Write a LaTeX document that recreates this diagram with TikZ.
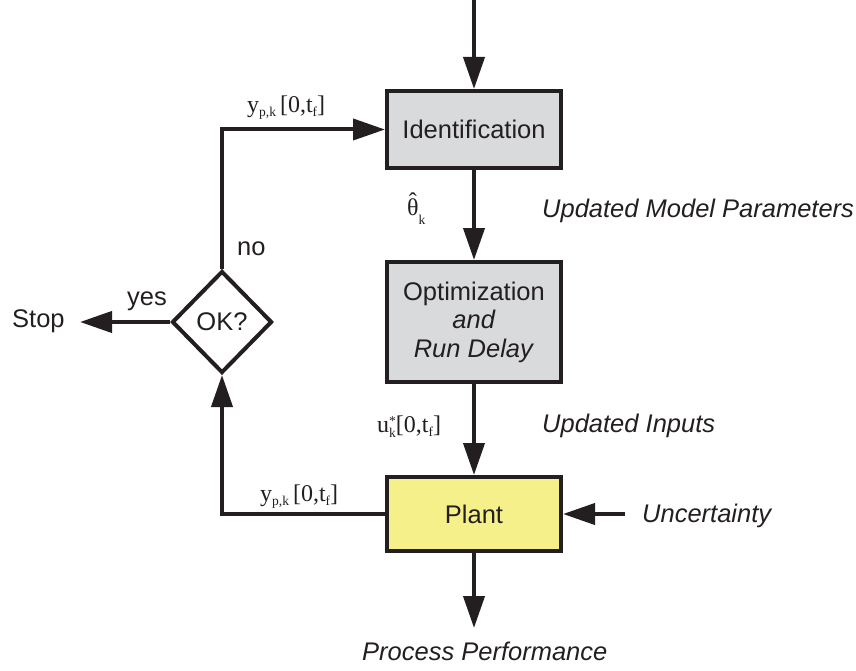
\documentclass[tikz,border=0pt]{standalone}
\usepackage{fontspec}
\setmainfont{Liberation Serif}
\setsansfont{Liberation Sans}
\usetikzlibrary{arrows.meta,shapes.geometric}
\definecolor{ink}{HTML}{231F20}
\definecolor{boxgray}{HTML}{D9DADB}
\definecolor{plantyellow}{HTML}{F5F08A}
% lowered small index for the serif signal labels
\newcommand\lsub[2]{\raisebox{#1}{\fontsize{13.5}{13.5}\selectfont #2}}
\newcommand\sigfont{\fontsize{24}{26}\selectfont}
\newcommand\bigsans{\sffamily\fontsize{25.5}{28.5}\selectfont}
% theta with a hat placed over it
\newcommand\thetahat{\ooalign{θ\cr\hidewidth\raisebox{6pt}{ˆ}\hidewidth\cr}}

\begin{document}
\begin{tikzpicture}[x=1pt,y=-1pt,
  every node/.style={inner sep=0pt, text=ink},
  block/.style={draw=ink, line width=4pt, minimum width=174pt, inner sep=0pt,
    font=\bigsans, align=center},
  decision/.style={diamond, aspect=1, draw=ink, line width=4pt,
    minimum width=100pt, minimum height=102pt, fill=white, inner sep=0pt, font=\bigsans},
  flow/.style={draw=ink, line width=4pt, -{Triangle[length=32pt,width=21pt]}},
  lbl/.style={anchor=base west, font=\bigsans},
  ilbl/.style={anchor=base west, font=\bigsans\itshape},
  sig/.style={anchor=base west, font=\sigfont}
]
\useasboundingbox (0,0) rectangle (856,671);

% blocks
\node[block, fill=boxgray, minimum height=77pt] (ident) at (474,129.5) {Identification};
\node[block, fill=boxgray, minimum height=120pt] (opt) at (474,322)
  {Optimization\\\textit{and}\\\textit{Run Delay}};
\node[block, fill=plantyellow, minimum height=74pt] (plant) at (474,514) {Plant};
\node[decision] (ok) at (222,322) {OK?};

% free ends
\coordinate (topin) at (474,0);
\coordinate (stoptip) at (80,322);
\coordinate (uncin) at (625,514);
\coordinate (perfend) at (474,628);

% connectors
\draw[flow] (topin) -- (ident.north);
\draw[flow] (ident.south) -- (opt.north);
\draw[flow] (opt.south) -- (plant.north);
\draw[flow] (plant.west) -| (ok.south);
\draw[flow] (ok.north) |- (ident.west);
\draw[flow] (ok.west) -- (stoptip);
\draw[flow] (uncin) -- (plant.east);
\draw[flow] (plant.south) -- (perfend);

% text labels
\node[lbl] (stop) at (12,327) {Stop};
\node[lbl] (yes) at (127,305) {yes};
\node[lbl] (no) at (237,255) {no};
\node[ilbl] (params) at (542,218) {Updated Model Parameters};
\node[ilbl] (inputs) at (542,432) {Updated Inputs};
\node[ilbl] (uncert) at (642,522) {Uncertainty};
\node[ilbl] (perf) at (362,660) {Process Performance};

% signal labels
\node[sig] (ytop) at (247,113) {y\lsub{-4pt}{p,k}\hspace{4pt}[0,t\lsub{-4pt}{f}]};
\node[sig] (ybot) at (260,501) {y\lsub{-4pt}{p,k}\hspace{4pt}[0,t\lsub{-4pt}{f}]};
\node[sig] (theta) at (407,215) {\thetahat\lsub{-9pt}{k}};
\node[sig] (ustar) at (377,432) {u\rlap{\lsub{7pt}{*}}\lsub{-5pt}{k}[0,t\lsub{-4pt}{f}]};
\end{tikzpicture}
\end{document}
